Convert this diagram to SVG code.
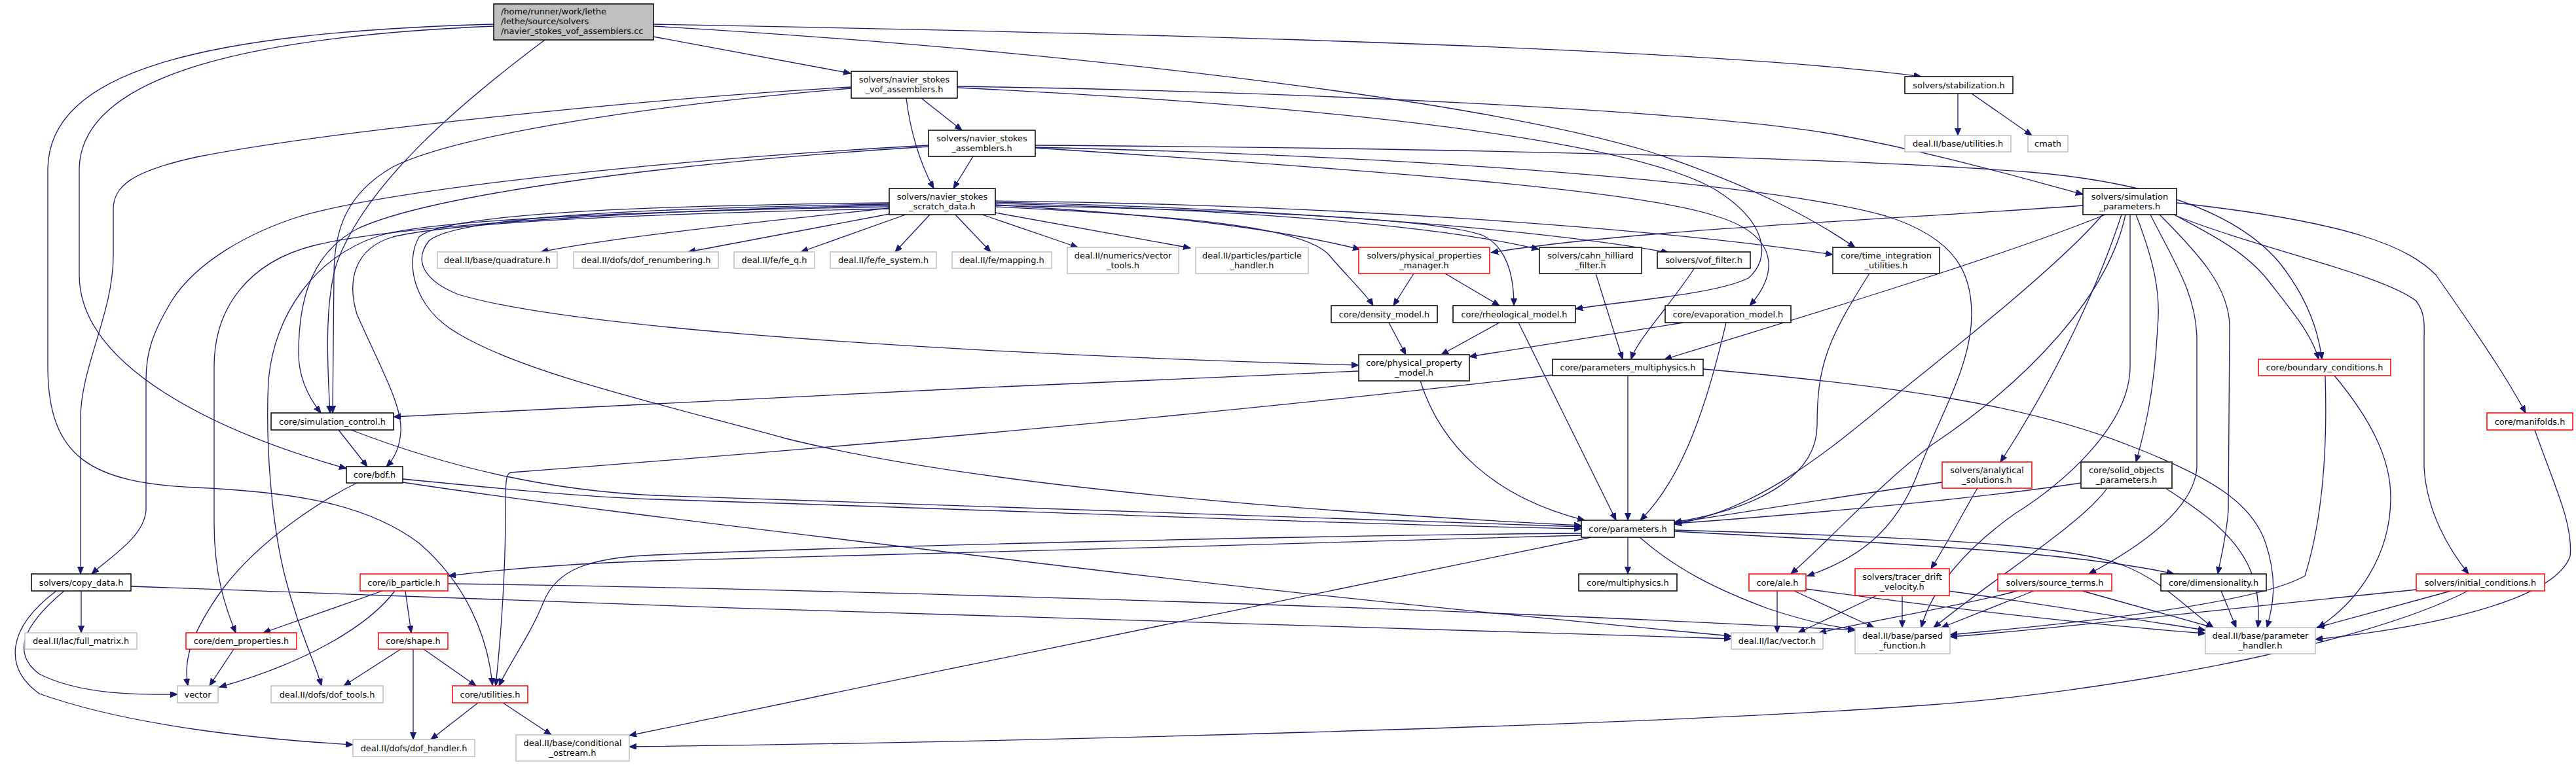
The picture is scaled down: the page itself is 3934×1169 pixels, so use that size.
<svg xmlns="http://www.w3.org/2000/svg" width="3934" height="1169" viewBox="0 0 3934 1169">
<style>
rect{fill:#fff;stroke-width:1.5}
.k{stroke:#000}.d{stroke:#404040;stroke-width:2}.g{stroke:#bfbfbf}.r{stroke:#ff0000}
.root{fill:#bfbfbf;stroke:#000}
text{font-family:"DejaVu Sans",sans-serif;font-size:12.9px;text-anchor:middle;fill:#000}
.l{text-anchor:start}
#edges path{fill:none;stroke:#191970;stroke-width:1.3;marker-end:url(#a)}
</style>
<defs>
<marker id="a" markerWidth="12" markerHeight="10" refX="11" refY="4.5" orient="auto" markerUnits="userSpaceOnUse"><path d="M0,0 L11,4.5 L0,9 z" fill="#191970" stroke="#191970" stroke-width="1"/></marker>
</defs>
<rect x="0" y="0" width="3934" height="1169" style="fill:#fff;stroke:none"/>
<g id="edges">
<path d="M998,56 L1299,112"/>
<path d="M998,37 C1700,50 2600,72 2934,117"/>
<path d="M998,40 C1600,75 2250,150 2520,232 C2680,285 2770,335 2833,378"/>
<path d="M754,40 C400,55 121,110 121,260 L121,420 C121,560 330,660 529,716"/>
<path d="M754,37 C300,50 73,110 73,260 L73,560 C73,700 140,738 300,745 C450,752 560,770 640,830 C710,890 745,970 752,1047"/>
<path d="M832,61 C700,160 560,280 515,400 C495,460 500,560 504,631"/>
<path d="M1407,150 L1469,199"/>
<path d="M1384,150 C1390,200 1405,250 1426,288"/>
<path d="M1486,239 L1456,288"/>
<path d="M1300,133 C1000,150 500,200 300,240 C200,262 173,285 173,320 L173,390 C173,480 123,560 123,640 L123,877"/>
<path d="M1300,135 C1000,160 700,205 600,255 C530,295 510,350 510,420 L508,631"/>
<path d="M1418,222 C1000,245 600,290 460,330 C380,355 300,400 262,460 C232,510 223,540 223,580 L223,780 C220,820 170,850 140,877"/>
<path d="M1418,224 C1000,250 650,300 545,350 C480,385 456,450 456,540 C456,580 475,612 490,631"/>
<path d="M1581,222 C2200,226 2800,240 3100,263 C3300,280 3420,330 3480,400 C3520,450 3540,500 3546,549"/>
<path d="M3320,328 C3380,360 3430,385 3465,430 C3500,475 3530,510 3541,549"/>
<path d="M1581,225 C2200,240 2700,280 2880,330 C2990,365 3011,420 3011,480 C3011,560 2960,640 2930,720 C2900,800 2850,850 2760,880"/>
<path d="M1581,226 C2100,260 2500,290 2620,330 C2720,360 2715,420 2672,467"/>
<path d="M1462,132 C2000,140 2600,170 2800,205 C2950,232 3080,270 3181,297"/>
<path d="M1462,134 C2100,165 2500,220 2620,290 C2700,340 2705,395 2670,425 C2620,450 2480,460 2406,472"/>
<path d="M1358,318 C1200,335 950,360 826,385"/>
<path d="M1358,327 L1051,385"/>
<path d="M1383,328 L1223,385"/>
<path d="M1420,328 L1367,385"/>
<path d="M1459,328 L1513,385"/>
<path d="M1500,328 L1646,378"/>
<path d="M1520,325 L1818,379"/>
<path d="M1520,313 C1800,330 1950,350 2077,381"/>
<path d="M1520,311 C1900,320 2200,345 2350,381"/>
<path d="M1520,309 C1950,318 2350,350 2548,386"/>
<path d="M1520,307 C2000,312 2500,345 2799,389"/>
<path d="M1520,316 C1800,330 1990,345 2030,390 C2055,420 2085,448 2097,467"/>
<path d="M1520,314 C1900,320 2200,335 2265,360 C2305,380 2312,430 2312,467"/>
<path d="M1358,312 C1000,318 700,330 655,368 C630,400 650,430 700,450 C900,510 1600,545 2075,558"/>
<path d="M1358,310 C1000,314 680,325 640,362 C618,400 630,470 700,510 C800,570 1000,615 1200,670 C1500,745 2000,782 2415,803"/>
<path d="M1358,314 C1000,320 600,345 480,375 C380,400 327,470 327,560 L327,800 C327,880 345,930 360,967"/>
<path d="M1358,316 C1000,322 660,335 580,360 C480,392 420,480 410,580 C405,680 415,800 435,880 C455,960 480,1010 491,1048"/>
<path d="M1358,319 C1000,326 700,338 600,362 C540,380 530,430 545,480 C580,560 615,620 612,660 C610,690 598,705 590,713"/>
<path d="M2990,143 L2990,207"/>
<path d="M3011,143 L3103,207"/>
<path d="M3181,314 C2900,335 2500,350 2277,386"/>
<path d="M3215,328 C3100,375 2900,440 2542,549"/>
<path d="M3211,328 C3150,400 3000,520 2900,600 C2780,700 2680,780 2557,801"/>
<path d="M3240,328 C3210,420 3150,560 3055,706"/>
<path d="M3246,328 C3220,450 3100,580 2950,680 C2870,740 2800,820 2735,877"/>
<path d="M3262,328 C3290,400 3300,450 3295,500 C3290,600 3275,660 3262,706"/>
<path d="M3284,328 C3320,400 3355,450 3355,520 L3355,713 C3352,780 3260,840 3190,877"/>
<path d="M3298,328 C3360,390 3405,440 3405,500 L3403,780 C3400,820 3392,850 3387,877"/>
<path d="M3253,328 L3253,560 C3253,650 3150,740 3077,785 C3000,840 2950,900 2934,959"/>
<path d="M3324,330 C3450,380 3640,420 3690,460 C3705,480 3702,500 3702,520 L3702,713 C3705,780 3740,840 3770,877"/>
<path d="M3324,310 C3600,340 3680,380 3720,420 C3790,520 3830,580 3857,631"/>
<path d="M3020,746 C3005,770 2980,820 2949,869"/>
<path d="M2159,418 L2128,467"/>
<path d="M2207,418 L2290,467"/>
<path d="M2121,493 L2147,542"/>
<path d="M2290,493 L2201,542"/>
<path d="M2571,493 L2244,545"/>
<path d="M2437,418 L2478,549"/>
<path d="M2587,411 C2540,480 2500,520 2491,549"/>
<path d="M2075,567 C1600,585 1000,618 601,637"/>
<path d="M2169,582 C2200,680 2280,760 2420,795"/>
<path d="M2319,493 L2468,795"/>
<path d="M2486,574 L2486,795"/>
<path d="M2636,493 C2600,650 2560,740 2505,795"/>
<path d="M2855,418 C2790,520 2775,560 2775,650 C2775,720 2700,775 2557,798"/>
<path d="M2371,573 C1800,640 1200,690 780,722 C772,723 772,740 772,780 C772,900 762,1000 757,1048"/>
<path d="M2601,564 C2900,590 3100,620 3250,680 C3380,730 3440,770 3460,830 C3480,890 3470,930 3462,959"/>
<path d="M2966,737 C2800,760 2650,785 2557,799"/>
<path d="M3178,738 C3000,765 2700,790 2557,800"/>
<path d="M517,657 L561,713"/>
<path d="M536,657 C700,720 850,750 1000,757 C1500,778 2000,795 2415,805"/>
<path d="M615,732 C800,750 900,760 1000,763 C1500,778 2000,800 2415,808"/>
<path d="M615,737 C800,765 1000,790 1500,850 C1900,900 2300,940 2644,972"/>
<path d="M545,738 C500,760 400,820 340,900 C290,970 280,1010 287,1048"/>
<path d="M124,903 L124,967"/>
<path d="M98,903 C30,960 20,1000 60,1030 C120,1060 200,1062 271,1061"/>
<path d="M86,903 C10,960 5,1020 60,1060 C200,1110 400,1130 539,1138"/>
<path d="M200,896 C1000,927 2000,958 2644,976"/>
<path d="M584,903 L402,967"/>
<path d="M603,903 C560,960 460,1015 335,1050"/>
<path d="M619,903 L628,967"/>
<path d="M684,892 C1000,896 2000,918 2833,963"/>
<path d="M357,992 L320,1048"/>
<path d="M612,992 L525,1048"/>
<path d="M631,992 L631,1130"/>
<path d="M647,992 L727,1048"/>
<path d="M730,1074 L658,1130"/>
<path d="M768,1074 L842,1123"/>
<path d="M2415,815 C2000,818 1300,835 1000,848 C900,852 850,870 830,920 C810,970 780,1010 762,1048"/>
<path d="M2415,818 C2000,830 1300,850 1000,857 C850,862 750,872 685,880"/>
<path d="M2486,821 L2486,877"/>
<path d="M2504,821 C2560,870 2620,900 2700,930 C2760,950 2800,958 2833,962"/>
<path d="M2430,821 C2250,860 1500,1010 961,1124"/>
<path d="M2557,812 C3000,835 3200,850 3320,877"/>
<path d="M2557,810 C2900,820 3150,830 3240,863 C3300,885 3340,930 3380,959"/>
<path d="M3769,903 C3600,990 3200,1060 2934,1078 C2500,1110 1500,1135 961,1141"/>
<path d="M3690,901 C3400,930 3100,965 2978,973"/>
<path d="M3743,903 L3538,959"/>
<path d="M3551,574 C3555,700 3545,800 3520,880 C3450,920 3200,950 2978,970"/>
<path d="M3565,574 C3620,640 3651,700 3651,760 C3651,850 3600,920 3540,959"/>
<path d="M3871,657 C3900,740 3930,800 3925,850 C3900,920 3700,960 3536,977"/>
<path d="M3218,746 C3180,800 3050,880 2953,959"/>
<path d="M3307,746 C3360,780 3420,820 3440,880 C3450,910 3450,940 3448,959"/>
<path d="M3081,903 C3000,925 2850,950 2778,967"/>
<path d="M3106,903 L2965,959"/>
<path d="M3180,903 L3380,959"/>
<path d="M3392,903 L3415,959"/>
<path d="M2714,903 L2714,967"/>
<path d="M2740,903 L2862,959"/>
<path d="M2758,900 C3000,933 3200,955 3368,968"/>
<path d="M2866,910 L2746,967"/>
<path d="M2905,910 L2905,959"/>
<path d="M2975,903 C3100,920 3250,945 3368,963"/>
</g>
<g id="n0"><rect class="root" x="754" y="6" width="244" height="55"/><text class="l" x="765" y="22">/home/runner/work/lethe</text><text class="l" x="765" y="37">/lethe/source/solvers</text><text class="l" x="765" y="52">/navier_stokes_vof_assemblers.cc</text></g>
<g id="n1"><rect class="k" x="1300" y="109" width="162" height="41"/><text x="1381" y="126">solvers/navier_stokes</text><text x="1381" y="141">_vof_assemblers.h</text></g>
<g id="n2"><rect class="k" x="2909" y="117" width="165" height="26"/><text x="2991.5" y="135">solvers/stabilization.h</text></g>
<g id="n3"><rect class="k" x="1418" y="199" width="163" height="40"/><text x="1499.5" y="216">solvers/navier_stokes</text><text x="1499.5" y="231">_assemblers.h</text></g>
<g id="n4"><rect class="g" x="2909" y="207" width="162" height="25"/><text x="2990" y="224">deal.II/base/utilities.h</text></g>
<g id="n5"><rect class="g" x="3097" y="207" width="61" height="25"/><text x="3127.5" y="224">cmath</text></g>
<g id="n6"><rect class="k" x="1358" y="288" width="162" height="40"/><text x="1439" y="305">solvers/navier_stokes</text><text x="1439" y="320">_scratch_data.h</text></g>
<g id="n7"><rect class="k" x="3181" y="288" width="143" height="40"/><text x="3252.5" y="305">solvers/simulation</text><text x="3252.5" y="320">_parameters.h</text></g>
<g id="n8"><rect class="g" x="668" y="385" width="183" height="25"/><text x="759.5" y="402">deal.II/base/quadrature.h</text></g>
<g id="n9"><rect class="g" x="876" y="385" width="221" height="25"/><text x="986.5" y="402">deal.II/dofs/dof_renumbering.h</text></g>
<g id="n10"><rect class="g" x="1121" y="385" width="123" height="25"/><text x="1182.5" y="402">deal.II/fe/fe_q.h</text></g>
<g id="n11"><rect class="g" x="1268" y="385" width="162" height="25"/><text x="1349" y="402">deal.II/fe/fe_system.h</text></g>
<g id="n12"><rect class="g" x="1454" y="385" width="152" height="25"/><text x="1530" y="402">deal.II/fe/mapping.h</text></g>
<g id="n13"><rect class="g" x="1630" y="378" width="170" height="40"/><text x="1715" y="395">deal.II/numerics/vector</text><text x="1715" y="410">_tools.h</text></g>
<g id="n14"><rect class="g" x="1826" y="378" width="172" height="40"/><text x="1912" y="395">deal.II/particles/particle</text><text x="1912" y="410">_handler.h</text></g>
<g id="n15"><rect class="r" x="2075" y="378" width="200" height="40"/><text x="2175" y="395">solvers/physical_properties</text><text x="2175" y="410">_manager.h</text></g>
<g id="n16"><rect class="d" x="2351" y="378" width="156" height="40"/><text x="2429" y="395">solvers/cahn_hilliard</text><text x="2429" y="410">_filter.h</text></g>
<g id="n17"><rect class="k" x="2531" y="385" width="142" height="25"/><text x="2602" y="402">solvers/vof_filter.h</text></g>
<g id="n18"><rect class="d" x="2799" y="378" width="163" height="40"/><text x="2880.5" y="395">core/time_integration</text><text x="2880.5" y="410">_utilities.h</text></g>
<g id="n19"><rect class="k" x="2033" y="467" width="162" height="26"/><text x="2114" y="485">core/density_model.h</text></g>
<g id="n20"><rect class="k" x="2219" y="467" width="187" height="26"/><text x="2312.5" y="485">core/rheological_model.h</text></g>
<g id="n21"><rect class="k" x="2543" y="467" width="192" height="26"/><text x="2639" y="485">core/evaporation_model.h</text></g>
<g id="n22"><rect class="d" x="2075" y="542" width="169" height="40"/><text x="2159.5" y="559">core/physical_property</text><text x="2159.5" y="574">_model.h</text></g>
<g id="n23"><rect class="k" x="2371" y="549" width="230" height="25"/><text x="2486" y="566">core/parameters_multiphysics.h</text></g>
<g id="n24"><rect class="r" x="3449" y="549" width="202" height="25"/><text x="3550" y="566">core/boundary_conditions.h</text></g>
<g id="n25"><rect class="k" x="414" y="631" width="187" height="26"/><text x="507.5" y="649">core/simulation_control.h</text></g>
<g id="n26"><rect class="r" x="3798" y="631" width="131" height="26"/><text x="3863.5" y="649">core/manifolds.h</text></g>
<g id="n27"><rect class="k" x="529" y="713" width="86" height="25"/><text x="572" y="730">core/bdf.h</text></g>
<g id="n28"><rect class="r" x="2966" y="706" width="137" height="40"/><text x="3034.5" y="723">solvers/analytical</text><text x="3034.5" y="738">_solutions.h</text></g>
<g id="n29"><rect class="d" x="3178" y="706" width="139" height="40"/><text x="3247.5" y="723">core/solid_objects</text><text x="3247.5" y="738">_parameters.h</text></g>
<g id="n30"><rect class="k" x="2415" y="795" width="142" height="26"/><text x="2486" y="813">core/parameters.h</text></g>
<g id="n31"><rect class="k" x="48" y="877" width="152" height="26"/><text x="124" y="895">solvers/copy_data.h</text></g>
<g id="n32"><rect class="r" x="550" y="877" width="134" height="26"/><text x="617" y="895">core/ib_particle.h</text></g>
<g id="n33"><rect class="k" x="2411" y="877" width="150" height="26"/><text x="2486" y="895">core/multiphysics.h</text></g>
<g id="n34"><rect class="r" x="2671" y="877" width="87" height="26"/><text x="2714.5" y="895">core/ale.h</text></g>
<g id="n35"><rect class="r" x="2833" y="869" width="144" height="41"/><text x="2905" y="886">solvers/tracer_drift</text><text x="2905" y="901">_velocity.h</text></g>
<g id="n36"><rect class="r" x="3051" y="877" width="174" height="26"/><text x="3138" y="895">solvers/source_terms.h</text></g>
<g id="n37"><rect class="k" x="3300" y="877" width="161" height="26"/><text x="3380.5" y="895">core/dimensionality.h</text></g>
<g id="n38"><rect class="r" x="3690" y="877" width="196" height="26"/><text x="3788" y="895">solvers/initial_conditions.h</text></g>
<g id="n39"><rect class="g" x="38" y="967" width="171" height="25"/><text x="123.5" y="984">deal.II/lac/full_matrix.h</text></g>
<g id="n40"><rect class="r" x="284" y="967" width="169" height="25"/><text x="368.5" y="984">core/dem_properties.h</text></g>
<g id="n41"><rect class="r" x="578" y="967" width="106" height="25"/><text x="631" y="984">core/shape.h</text></g>
<g id="n42"><rect class="g" x="2644" y="967" width="140" height="25"/><text x="2714" y="984">deal.II/lac/vector.h</text></g>
<g id="n43"><rect class="g" x="2833" y="959" width="145" height="40"/><text x="2905.5" y="976">deal.II/base/parsed</text><text x="2905.5" y="991">_function.h</text></g>
<g id="n44"><rect class="g" x="3368" y="959" width="168" height="40"/><text x="3452" y="976">deal.II/base/parameter</text><text x="3452" y="991">_handler.h</text></g>
<g id="n45"><rect class="g" x="271" y="1048" width="62" height="26"/><text x="302" y="1066">vector</text></g>
<g id="n46"><rect class="g" x="414" y="1048" width="171" height="26"/><text x="499.5" y="1066">deal.II/dofs/dof_tools.h</text></g>
<g id="n47"><rect class="r" x="691" y="1048" width="115" height="26"/><text x="748.5" y="1066">core/utilities.h</text></g>
<g id="n48"><rect class="g" x="539" y="1130" width="186" height="26"/><text x="632" y="1148">deal.II/dofs/dof_handler.h</text></g>
<g id="n49"><rect class="g" x="788" y="1123" width="173" height="40"/><text x="874.5" y="1140">deal.II/base/conditional</text><text x="874.5" y="1155">_ostream.h</text></g>
</svg>
